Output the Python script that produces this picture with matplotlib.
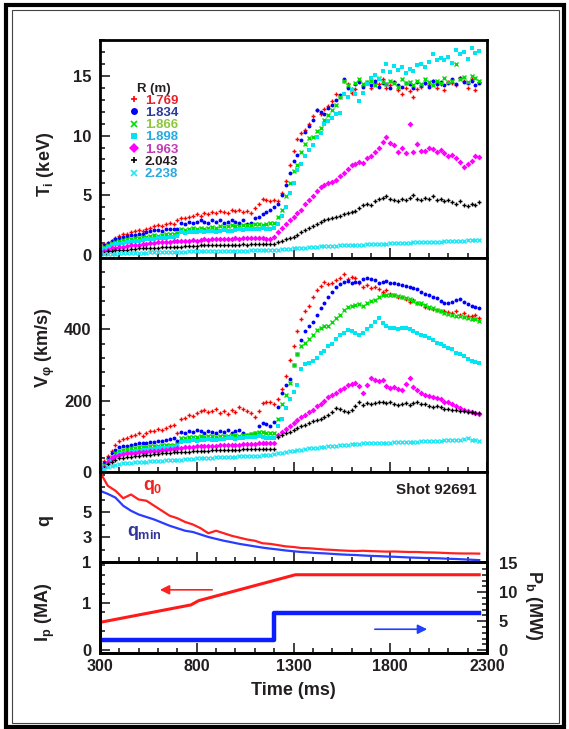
import numpy as np
import matplotlib
matplotlib.use("Agg")
import matplotlib.pyplot as plt
from matplotlib.ticker import MultipleLocator
from matplotlib.lines import Line2D
from matplotlib.patches import Rectangle

plt.rcParams['font.family'] = ['Liberation Sans', 'DejaVu Sans']
plt.rcParams['font.weight'] = 'bold'
plt.rcParams['axes.labelweight'] = 'bold'
plt.rcParams['text.color'] = '#231f20'
plt.rcParams['axes.labelcolor'] = '#231f20'
plt.rcParams['xtick.color'] = '#231f20'
plt.rcParams['ytick.color'] = '#231f20'
plt.rcParams['mathtext.fontset'] = 'custom'
plt.rcParams['mathtext.rm'] = 'Liberation Sans:bold'
plt.rcParams['mathtext.it'] = 'Liberation Sans:bold'
plt.rcParams['mathtext.bf'] = 'Liberation Sans:bold'

# ---- data ----
# profile channels sampled every 20 ms, 300 .. 2260 ms
time = np.arange(300, 2261, 20)
radii = ["1.769", "1.834", "1.866", "1.898", "1.963", "2.043", "2.238"]

ti_1769 = [0.5, 0.9, 1.0, 1.2, 1.4, 1.6, 1.75, 1.8, 1.9, 2.0,
           2.1, 2.0, 2.2, 2.3, 2.4, 2.5, 2.4, 2.6, 2.7, 2.6,
           2.9, 3.1, 3.1, 3.2, 3.3, 3.4, 3.3, 3.5, 3.4, 3.6,
           3.5, 3.7, 3.6, 3.5, 3.8, 3.7, 3.8, 3.6, 3.7, 3.5,
           3.9, 4.3, 4.7, 4.6, 4.5, 4.6, 4.5, 5.2, 6.2, 7.5,
           8.7, 9.7, 10.2, 10.5, 11.0, 11.6, 12.1, 11.8, 12.2, 12.5,
           12.9, 13.5, 13.2, 14.6, 14.3, 13.6, 13.9, 14.6, 14.2, 14.5,
           14.0, 14.4, 14.3, 14.7, 14.0, 14.2, 14.5, 13.8, 13.5, 14.0,
           13.7, 13.2, 13.9, 14.1, 14.4, 14.2, 14.6, 14.0, 14.3, 13.8,
           14.5, 14.4, 14.2, 14.8, 14.6, 14.0, 14.7, 13.8, 14.5]
ti_1834 = [0.5, 0.8, 1.0, 1.2, 1.35, 1.45, 1.5, 1.55, 1.65, 1.7,
           1.8, 1.75, 1.9, 2.0, 2.1, 2.1, 2.0, 2.2, 2.2, 2.15,
           2.2, 2.7, 2.6, 2.8, 2.7, 2.8, 2.9, 2.8, 2.7, 2.9,
           2.8, 2.9, 2.7, 2.8, 2.9, 2.8, 2.7, 2.9, 2.6, 2.7,
           3.1, 3.2, 3.4, 3.6, 3.8, 4.0, 4.3, 5.0, 5.9, 6.9,
           7.9, 8.4, 9.6, 10.3, 10.8, 11.3, 12.1, 12.0, 11.8, 12.3,
           12.6, 13.0, 13.4, 14.7, 14.0, 13.9, 14.3, 14.5, 14.1, 14.4,
           14.2, 14.6, 14.1, 14.4, 14.3, 14.0, 14.5, 14.2, 14.1, 14.4,
           14.3, 14.0, 14.5, 14.2, 14.4, 14.1, 14.6, 14.3, 14.5, 14.2,
           14.4, 14.7, 14.3, 14.8, 14.5, 14.4, 14.6, 14.2, 14.4]
ti_1866 = [0.4, 0.7, 0.85, 1.0, 1.1, 1.2, 1.25, 1.3, 1.35, 1.4,
           1.45, 1.5, 1.5, 1.55, 1.65, 1.6, 1.7, 1.75, 1.8, 1.8,
           1.85, 2.2, 2.1, 2.2, 2.25, 2.2, 2.3, 2.2, 2.3, 2.35,
           2.3, 2.4, 2.35, 2.4, 2.5, 2.45, 2.4, 2.5, 2.55, 2.5,
           2.6, 2.6, 2.55, 2.6, 2.65, 2.7, 3.2, 3.8, 4.9, 6.0,
           7.0, 7.5, 8.6, 9.3, 9.8, 9.9, 10.4, 10.6, 11.3, 11.7,
           12.1, 12.6, 13.2, 14.6, 14.2, 13.8, 14.4, 14.7, 14.3, 14.5,
           14.6, 14.2, 14.8, 14.5, 14.3, 14.6, 14.4, 14.1, 14.7, 14.4,
           14.5, 14.2, 14.6, 14.3, 14.7, 14.5, 14.2, 14.6, 14.4, 14.8,
           14.5, 14.6, 16.0, 14.7, 14.9, 14.5, 15.0, 14.8, 14.6]
ti_1898 = [0.3, 0.5, 0.65, 0.8, 0.9, 0.95, 1.0, 1.05, 1.1, 1.15,
           1.2, 1.25, 1.3, 1.3, 1.35, 1.4, 1.4, 1.45, 1.5, 1.5,
           1.55, 1.9, 1.85, 1.9, 1.95, 1.9, 2.0, 1.95, 2.0, 2.05,
           1.95, 2.0, 2.1, 2.05, 2.0, 2.1, 2.15, 2.1, 2.2, 2.15,
           2.2, 2.2, 2.25, 2.2, 2.2, 2.3, 2.6, 3.3, 4.0, 5.2,
           6.0, 7.1, 7.6, 8.3, 8.8, 9.2, 9.9, 10.2, 11.0, 11.2,
           11.5, 11.8, 11.9, 13.5, 13.2, 13.8, 13.5, 12.9, 13.6, 14.3,
           14.8, 15.1, 14.7, 15.4, 16.0, 15.3, 15.8, 15.5, 15.7, 15.2,
           15.6, 15.4, 15.9, 16.0, 15.7, 16.2, 16.8, 16.3, 16.5, 16.3,
           16.6, 16.1, 17.2, 16.8, 17.0, 16.4, 17.3, 16.9, 17.1]
ti_1963 = [0.2, 0.35, 0.45, 0.55, 0.6, 0.65, 0.7, 0.75, 0.8, 0.85,
           0.85, 0.9, 0.95, 1.0, 1.0, 1.05, 1.05, 1.1, 1.1, 1.15,
           1.15, 1.2, 1.2, 1.2, 1.25, 1.2, 1.25, 1.3, 1.25, 1.3,
           1.3, 1.35, 1.3, 1.35, 1.35, 1.4, 1.35, 1.4, 1.4, 1.45,
           1.4, 1.45, 1.4, 1.3, 1.35, 1.5, 1.9, 2.3, 2.6, 2.9,
           3.2, 3.5, 3.8, 4.3, 4.6, 4.9, 5.4, 5.7, 5.9, 6.0,
           6.1, 6.3, 6.6, 6.9, 7.2, 7.5, 7.6, 7.8, 7.7, 8.1,
           8.3, 8.6, 9.0, 9.5, 9.9, 9.4, 9.2, 8.6, 9.0, 8.5,
           11.0, 8.6, 9.3, 8.7, 8.7, 9.0, 8.9, 8.6, 8.8, 8.5,
           8.3, 8.4, 8.1, 7.8, 7.4, 7.6, 7.9, 8.3, 8.2]
ti_2043 = [0.05, 0.2, 0.3, 0.35, 0.4, 0.4, 0.45, 0.45, 0.5, 0.5,
           0.55, 0.55, 0.55, 0.6, 0.6, 0.6, 0.65, 0.65, 0.65, 0.7,
           0.7, 0.7, 0.75, 0.75, 0.75, 0.75, 0.8, 0.8, 0.8, 0.8,
           0.8, 0.85, 0.8, 0.85, 0.85, 0.85, 0.85, 0.9, 0.85, 0.9,
           0.9, 0.9, 0.9, 0.9, 0.9, 0.95, 1.1, 1.2, 1.3, 1.4,
           1.5, 1.7, 1.9, 2.1, 2.3, 2.4, 2.6, 2.8, 2.9, 3.0,
           3.1, 3.2, 3.3, 3.4, 3.5, 3.6, 3.7, 3.9, 4.2, 4.3,
           4.2, 4.5, 4.7, 4.8, 4.9, 4.7, 4.6, 4.5, 4.7, 4.6,
           4.8, 5.0, 4.7, 4.6, 4.8, 4.7, 4.9, 4.6, 4.7, 4.5,
           4.6, 4.4, 4.3, 4.5, 4.2, 4.1, 4.3, 4.2, 4.4]
ti_2238 = [0.0, 0.05, 0.08, 0.1, 0.12, 0.14, 0.15, 0.15, 0.17, 0.18,
           0.18, 0.2, 0.2, 0.22, 0.22, 0.24, 0.25, 0.25, 0.26, 0.27,
           0.27, 0.28, 0.28, 0.3, 0.3, 0.3, 0.31, 0.32, 0.32, 0.33,
           0.33, 0.34, 0.34, 0.35, 0.35, 0.36, 0.36, 0.37, 0.37, 0.38,
           0.38, 0.39, 0.4, 0.4, 0.42, 0.44, 0.46, 0.48, 0.5, 0.53,
           0.55, 0.58, 0.6, 0.62, 0.65, 0.67, 0.7, 0.72, 0.73, 0.75,
           0.76, 0.78, 0.8, 0.82, 0.83, 0.85, 0.86, 0.87, 0.88, 0.9,
           0.91, 0.92, 0.94, 0.95, 0.96, 0.97, 0.98, 1.0, 1.01, 1.02,
           1.03, 1.05, 1.06, 1.07, 1.08, 1.1, 1.1, 1.12, 1.13, 1.14,
           1.15, 1.16, 1.18, 1.19, 1.2, 1.22, 1.23, 1.24, 1.25]

vphi_1769 = [5, 30, 45, 60, 75, 88, 92, 96, 100, 104,
             108, 102, 110, 114, 116, 120, 118, 124, 128, 132,
             110, 148, 152, 160, 158, 165, 170, 174, 168, 172,
             176, 165, 170, 162, 175, 168, 183, 178, 170, 165,
             155, 170, 193, 197, 195, 190, 205, 232, 270, 314,
             352, 395, 430, 452, 465, 490, 510, 522, 534, 528,
             530, 538, 545, 555, 540, 548, 543, 530, 520, 525,
             515, 518, 512, 506, 510, 500, 495, 490, 492, 485,
             478, 482, 475, 470, 464, 460, 458, 454, 450, 452,
             448, 445, 450, 440, 445, 438, 436, 440, 432]
vphi_1834 = [5, 25, 40, 52, 62, 70, 72, 74, 76, 78,
             80, 80, 82, 84, 85, 86, 88, 90, 92, 94,
             88, 113, 110, 116, 112, 118, 114, 110, 115, 112,
             108, 116, 112, 118, 110, 114, 118, 110, 104, 106,
             110, 130, 137, 134, 130, 140, 183, 221, 245, 260,
             300, 330, 370, 395, 410, 420, 440, 460, 475, 490,
             505, 520, 527, 534, 535, 530, 533, 534, 540, 543,
             540, 538, 529, 532, 535, 529, 531, 526, 524, 522,
             520, 516, 512, 506, 500, 495, 490, 487, 480, 475,
             473, 478, 482, 484, 478, 470, 466, 462, 459]
vphi_1866 = [3, 20, 35, 43, 52, 60, 62, 64, 66, 68,
             70, 70, 71, 72, 73, 74, 75, 76, 77, 76,
             78, 94, 96, 98, 99, 97, 100, 99, 101, 100,
             99, 101, 102, 100, 103, 104, 102, 105, 104, 106,
             108, 113, 112, 110, 108, 110, 150, 190, 215, 250,
             300, 330, 352, 362, 372, 385, 398, 404, 408, 410,
             420, 431, 440, 455, 464, 466, 468, 470, 466, 475,
             480, 482, 490, 497, 495, 497, 496, 494, 490, 487,
             485, 480, 475, 473, 468, 464, 459, 455, 450, 445,
             442, 440, 436, 437, 435, 433, 430, 428, 422]
vphi_1898 = [0, 15, 25, 34, 44, 50, 52, 54, 56, 58,
             60, 61, 62, 64, 65, 66, 67, 68, 70, 71,
             72, 85, 86, 88, 90, 88, 91, 90, 92, 90,
             91, 93, 92, 94, 95, 93, 96, 95, 97, 98,
             99, 100, 98, 96, 94, 95, 130, 150, 180, 205,
             225, 245, 290, 303, 305, 310, 320, 333, 340, 352,
             360, 372, 384, 390, 398, 395, 390, 384, 390, 400,
             408, 420, 431, 417, 410, 405, 403, 400, 405, 403,
             400, 395, 390, 384, 380, 375, 370, 362, 358, 352,
             348, 345, 333, 330, 325, 318, 312, 309, 306]
vphi_1963 = [0, 15, 28, 38, 44, 48, 50, 52, 53, 54,
             55, 56, 57, 58, 59, 60, 62, 63, 64, 65,
             66, 68, 69, 70, 71, 72, 72, 73, 73, 74,
             74, 75, 75, 76, 76, 77, 77, 78, 78, 79,
             79, 80, 80, 80, 80, 81, 104, 113, 120, 130,
             138, 145, 155, 160, 168, 175, 185, 190, 200, 211,
             215, 222, 230, 236, 244, 248, 249, 240, 221, 245,
             263, 258, 255, 258, 240, 236, 239, 232, 230, 248,
             263, 238, 230, 221, 216, 214, 211, 208, 204, 197,
             195, 190, 185, 179, 174, 170, 167, 165, 163]
vphi_2043 = [0, 12, 22, 29, 34, 38, 40, 42, 43, 44,
             46, 47, 48, 49, 50, 51, 52, 53, 54, 55,
             56, 56, 57, 57, 58, 58, 59, 60, 60, 61,
             61, 62, 62, 62, 63, 63, 63, 64, 64, 64,
             64, 64, 64, 64, 64, 65, 99, 104, 108, 113,
             118, 122, 128, 132, 137, 142, 147, 150, 155, 160,
             168, 179, 176, 172, 169, 173, 185, 197, 188, 193,
             190, 193, 195, 197, 193, 196, 192, 188, 190, 193,
             188, 193, 195, 192, 190, 186, 183, 185, 181, 178,
             176, 175, 174, 172, 170, 169, 168, 166, 165]
vphi_2238 = [0, 8, 14, 18, 20, 22, 24, 25, 26, 27,
             28, 29, 29, 30, 31, 32, 32, 33, 34, 34,
             35, 35, 36, 37, 37, 38, 38, 39, 40, 40,
             41, 41, 42, 42, 43, 43, 44, 44, 45, 45,
             46, 46, 47, 47, 48, 50, 52, 54, 56, 58,
             60, 62, 63, 65, 66, 67, 68, 70, 71, 72,
             73, 74, 75, 76, 77, 78, 78, 79, 80, 80,
             81, 81, 80, 81, 82, 82, 83, 83, 84, 84,
             85, 84, 85, 86, 86, 87, 87, 88, 88, 89,
             89, 90, 90, 91, 92, 95, 90, 89, 88]

# safety factor, sampled every 40 ms
time_q = np.arange(300, 2261, 40)
q0 = [8.2, 7.1, 6.7, 6.1, 6.4, 6.0, 5.9, 5.5, 5.1, 4.7,
      4.5, 4.2, 4.0, 3.7, 3.3, 3.5, 3.3, 3.1, 2.95, 2.8,
      2.7, 2.5, 2.45, 2.35, 2.25, 2.2, 2.12, 2.1, 2.05, 2.0,
      1.97, 1.93, 1.9, 1.88, 1.9, 1.87, 1.85, 1.83, 1.84, 1.82,
      1.8, 1.8, 1.77, 1.76, 1.74, 1.71, 1.69, 1.68, 1.68, 1.67]
qmin = [6.7, 6.45, 6.15, 5.5, 5.1, 4.8, 4.6, 4.4, 4.15, 3.9,
        3.7, 3.5, 3.4, 3.2, 3.0, 2.85, 2.7, 2.58, 2.45, 2.35,
        2.25, 2.15, 2.07, 2.0, 1.92, 1.86, 1.8, 1.76, 1.72, 1.69,
        1.65, 1.61, 1.58, 1.56, 1.52, 1.49, 1.47, 1.44, 1.42, 1.39,
        1.36, 1.34, 1.32, 1.31, 1.29, 1.26, 1.24, 1.21, 1.18, 1.15]

# plasma current and beam power waveforms
time_ip = [300, 770, 810, 1310, 2260]
ip = [0.59, 0.96, 1.05, 1.6, 1.6]
time_pb = [300, 1200, 1200, 2260]
pb = [1.8, 1.8, 6.4, 6.4]

ti_data = [ti_1769, ti_1834, ti_1866, ti_1898, ti_1963, ti_2043, ti_2238]
vphi_data = [vphi_1769, vphi_1834, vphi_1866, vphi_1898, vphi_1963, vphi_2043, vphi_2238]
markers = ['+', 'o', 'x', 's', 'D', '+', 'x']
colors = ['#ff0000', '#0000ff', '#00dd00', '#00e5f0', '#ff00ff', '#000000', '#22e8f5']
text_colors = ['#e8202a', '#2b3a98', '#8cc63f', '#27aae1', '#c33ab4', '#231f20', '#27aae1']
msizes = [3.5, 2.8, 3.2, 2.6, 3.0, 3.0, 2.6]

W, H = 569, 729
fig = plt.figure(figsize=(W / 100, H / 100), dpi=100)
left, width = 100 / W, 387 / W
ax1 = fig.add_axes([left, 1 - 258 / H, width, 218 / H])
ax2 = fig.add_axes([left, 1 - 472 / H, width, 214 / H])
ax3 = fig.add_axes([left, 1 - 562 / H, width, 90 / H])
ax4 = fig.add_axes([left, 1 - 653 / H, width, 91 / H])
ax5 = ax4.twinx()


def style(ax):
    ax.set_xlim(300, 2300)
    ax.set_xticks([300, 800, 1300, 1800, 2300])
    ax.xaxis.set_minor_locator(MultipleLocator(100))
    ax.tick_params(which='both', direction='in', width=1.2, labelsize=12, pad=6)
    ax.tick_params(which='major', length=7)
    ax.tick_params(which='minor', length=3.5)
    ax.tick_params(axis='x', pad=4.5, labelsize=11.5)
    for s in ax.spines.values():
        s.set_linewidth(2)


for ax in (ax1, ax2, ax3, ax4):
    style(ax)
for ax in (ax1, ax2, ax3):
    ax.tick_params(labelbottom=False)

for i in range(len(radii)):
    kw = dict(ls='none', marker=markers[i], color=colors[i], ms=msizes[i],
              mew=1.0 if markers[i] in '+x' else 0)
    ax1.plot(time, ti_data[i], **kw)
    ax2.plot(time, vphi_data[i], **kw)

ax1.set_ylim(-0.25, 18)
ax1.set_yticks([0, 5, 10, 15])
ax1.yaxis.set_minor_locator(MultipleLocator(1))
ax1.set_ylabel(r'$T_i$ (keV)', fontsize=13)
ax1.yaxis.set_label_coords(-0.142, 0.43)

handles = [Line2D([], [], ls='none', marker=markers[i], color=colors[i], ms=5,
                  mew=1.2 if markers[i] in '+x' else 0) for i in range(len(radii))]
leg = ax1.legend(handles, radii, loc='upper left', bbox_to_anchor=(0.075, 0.805),
                 frameon=False, title='R (m)', labelcolor=text_colors,
                 prop=dict(size=9.5, weight='bold'),
                 title_fontproperties=dict(size=9.5, weight='bold'),
                 handlelength=0.7, handletextpad=0.5, labelspacing=0.0,
                 borderpad=0, borderaxespad=0)
leg.get_title().set_color('#231f20')

ax2.set_ylim(0, 600)
ax2.set_yticks([0, 200, 400])
ax2.yaxis.set_minor_locator(MultipleLocator(40))
ax2.set_ylabel(r'$V_{φ}$ (km/s)', fontsize=13)
ax2.yaxis.set_label_coords(-0.142, 0.58)

ax3.plot(time_q, q0, color='#ff2020', lw=1.6)
ax3.plot(time_q, qmin, color='#2a3cff', lw=1.6)
ax3.set_ylim(1, 8.2)
ax3.set_yticks([1, 3, 5])
ax3.yaxis.set_minor_locator(MultipleLocator(1))
ax3.set_ylabel('q', fontsize=13)
ax3.yaxis.set_label_coords(-0.142, 0.46)
ax3.text(0.11, 0.83, r'$q_0$', color='#ee2222', fontsize=13,
         transform=ax3.transAxes, va='center')
ax3.text(0.07, 0.32, r'$q_{min}$', color='#33349c', fontsize=13,
         transform=ax3.transAxes, va='center')
ax3.text(0.974, 0.8, 'Shot 92691', fontsize=11, fontweight='bold',
         transform=ax3.transAxes, ha='right', va='center')

ax4.plot(time_ip, ip, color='#ff1a1a', lw=2.2)
ax4.set_ylim(-0.06, 1.87)
ax4.set_yticks([0, 1])
ax4.yaxis.set_minor_locator(MultipleLocator(0.2))
ax4.set_ylabel(r'$I_p$ (MA)', fontsize=13)
ax4.yaxis.set_label_coords(-0.142, 0.45)
ax4.set_xlabel('Time (ms)', fontsize=13, fontweight='bold')
ax4.xaxis.set_label_coords(0.5, -0.41)
ax4.annotate('', xy=(595, 1.28), xytext=(894, 1.28),
             arrowprops=dict(arrowstyle='-|>', color='#ff2020', lw=1.2, mutation_scale=14))

ax5.plot(time_pb, pb, color='#0a1eff', lw=3.2)
ax5.set_ylim(-0.5, 15.2)
ax5.set_yticks([0, 5, 10, 15])
ax5.yaxis.set_minor_locator(MultipleLocator(1))
ax5.tick_params(which='both', direction='in', width=1.2, labelsize=12, pad=8.5)
ax5.tick_params(which='major', length=7)
ax5.tick_params(which='minor', length=3.5)
for s in ax5.spines.values():
    s.set_linewidth(2)
ax5.set_ylabel(r'$P_b$ (MW)', fontsize=13, rotation=270)
ax5.yaxis.set_label_coords(1.12, 0.53)
ax5.annotate('', xy=(2005, 3.6), xytext=(1706, 3.6),
             arrowprops=dict(arrowstyle='-|>', color='#2040ff', lw=1.2, mutation_scale=14))

for a in (ax1, ax2, ax3, ax4, ax5):
    a.yaxis.label.set_verticalalignment('center')
    a.yaxis.label.set_horizontalalignment('center')
    a.yaxis.label.set_fontweight('bold')
    for lab in a.get_xticklabels() + a.get_yticklabels():
        lab.set_fontweight('bold')
ax4.xaxis.label.set_verticalalignment('center')

# double frame round the whole figure
fig.patches.append(Rectangle((6 / W, 2 / H), 558 / W, 722.5 / H, transform=fig.transFigure,
                             fill=False, lw=3, ec='black'))
fig.patches.append(Rectangle((11.5 / W, 6 / H), 547 / W, 713.5 / H, transform=fig.transFigure,
                             fill=False, lw=0.8, ec='#444444'))

fig.savefig('out.png', dpi=100)
